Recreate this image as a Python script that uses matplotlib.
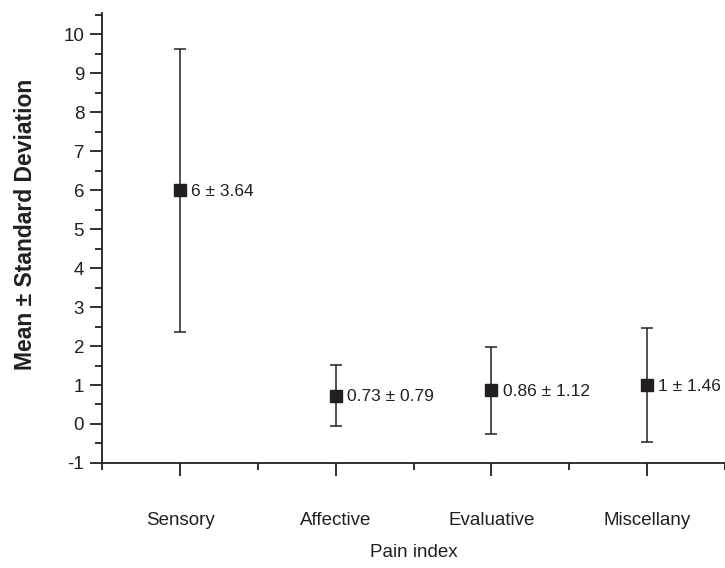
import numpy as np
import matplotlib
matplotlib.use("Agg")
import matplotlib.pyplot as plt
from matplotlib.ticker import MultipleLocator

plt.rcParams['font.family'] = ['Liberation Sans', 'DejaVu Sans']
plt.rcParams['axes.unicode_minus'] = False

categories = ["Sensory", "Affective", "Evaluative", "Miscellany"]
means = [6, 0.73, 0.86, 1]
sds = [3.64, 0.79, 1.12, 1.46]
labels = ["6 \u00b1 3.64", "0.73 \u00b1 0.79", "0.86 \u00b1 1.12", "1 \u00b1 1.46"]

ink = "#231f20"

fig = plt.figure(figsize=(7.25, 5.68), dpi=100)
ax = fig.add_axes([0.141, 0.185, 0.859, 0.792])

x = np.arange(1, len(categories) + 1)
ax.errorbar(x, means, yerr=sds, fmt="s", color=ink, ecolor=ink,
            markersize=9, elinewidth=1.1, capsize=4.5, capthick=1.1)

# value labels to the right of each marker
for xi, m, lab in zip(x, means, labels):
    ax.annotate(lab, (xi, m), xytext=(8, -1), textcoords="offset points",
                ha="left", va="center", fontsize=12.5, color=ink)

ax.set_xlim(0.5, 4.5)
ax.set_ylim(-1, 10.55)
ax.set_xticks(x)
ax.set_xticklabels(categories)
ax.set_xticks(np.arange(0.5, 5.0, 1.0), minor=True)
ax.yaxis.set_major_locator(MultipleLocator(1))
ax.yaxis.set_minor_locator(MultipleLocator(0.5))

for s in ["top", "right"]:
    ax.spines[s].set_visible(False)
for s in ["left", "bottom"]:
    ax.spines[s].set_linewidth(1.3)
    ax.spines[s].set_color(ink)

ax.tick_params(axis="both", which="major", length=9, width=1.3, color=ink,
               labelsize=13.5, labelcolor=ink)
ax.tick_params(axis="both", which="minor", length=5, width=1.3, color=ink)
ax.tick_params(axis="x", which="major", pad=26)
ax.tick_params(axis="y", which="major", pad=4)

ax.set_xlabel("Pain index", fontsize=13.5, color=ink)
ax.xaxis.set_label_coords(0.5, -0.18)
ax.set_ylabel("Mean \u00b1 Standard Deviation", fontsize=16.5, fontweight="bold",
              color=ink, va="center")
ax.yaxis.set_label_coords(-0.124, 0.53)

fig.savefig("out.png", dpi=100)
